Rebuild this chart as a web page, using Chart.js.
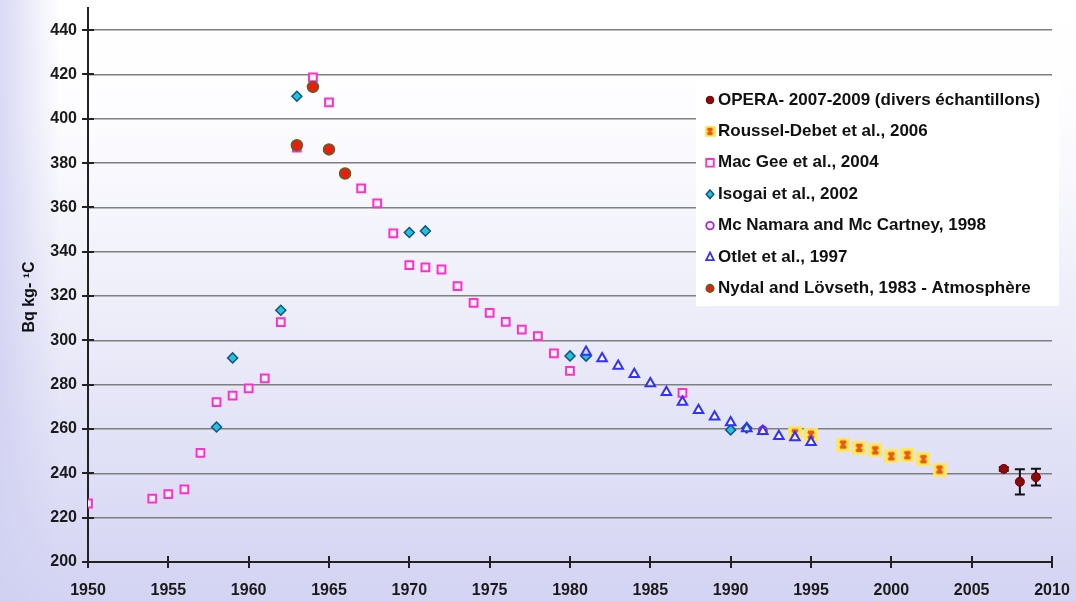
<!DOCTYPE html>
<html>
<head>
<meta charset="utf-8">
<script src="https://cdn.jsdelivr.net/npm/chart.js@4.4.0/dist/chart.umd.min.js"></script>
<style>
  html, body { margin: 0; padding: 0; background: #ffffff; }
  #wrap { width: 1076px; height: 601px; position: relative; }
</style>
</head>
<body>
<div id="wrap"><canvas id="c" width="1076" height="601"></canvas></div>
<script>
// ---- Axis ticks ----
const xTicks = [1950, 1955, 1960, 1965, 1970, 1975, 1980, 1985, 1990, 1995, 2000, 2005, 2010];
const yTicks = [200, 220, 240, 260, 280, 300, 320, 340, 360, 380, 400, 420, 440];

// ---- Series (year, Bq/kg C) ----
const operaYears = [2007, 2008, 2009];
const operaValues = [242.0, 236.2, 238.3];
const operaErrors = [0.8, 5.7, 3.8];

const rousselYears = [1994, 1995, 1997, 1998, 1999, 2000, 2001, 2002, 2003];
const rousselValues = [258.1, 257.4, 253.0, 251.5, 250.4, 247.7, 248.2, 246.4, 241.7];

const macGeeYears = [1950, 1954, 1955, 1956, 1957, 1958, 1959, 1960, 1961, 1962, 1963, 1964, 1965,
                     1967, 1968, 1969, 1970, 1971, 1972, 1973, 1974, 1975, 1976, 1977, 1978, 1979, 1980, 1987];
const macGeeValues = [226.4, 228.6, 230.6, 232.8, 249.2, 272.1, 275.1, 278.4, 282.9, 308.2, 387.0, 418.7, 407.4,
                      368.6, 361.8, 348.3, 334.0, 333.0, 332.0, 324.5, 316.9, 312.4, 308.4, 304.9, 301.9, 294.1, 286.2, 276.3];

const isogaiYears = [1958, 1959, 1962, 1963, 1970, 1971, 1980, 1981, 1990, 1991];
const isogaiValues = [260.9, 292.1, 313.6, 410.2, 348.7, 349.4, 293.0, 292.9, 259.6, 260.5];

const mcNamaraYears = [1992];
const mcNamaraValues = [259.4];

const otletYears = [1981, 1982, 1983, 1984, 1985, 1986, 1987, 1988, 1989, 1990, 1991, 1992, 1993, 1994, 1995];
const otletValues = [294.8, 291.8, 288.5, 284.7, 280.5, 276.6, 272.2, 268.5, 265.5, 263.0, 260.3, 259.0, 256.7, 256.2, 254.0];

const nydalYears = [1963, 1964, 1965, 1966];
const nydalValues = [388.1, 414.4, 386.2, 375.3];

const seriesNames = [
  'OPERA- 2007-2009 (divers échantillons)',
  'Roussel-Debet et al., 2006',
  'Mac Gee et al., 2004',
  'Isogai et al., 2002',
  'Mc Namara and Mc Cartney, 1998',
  'Otlet et al., 1997',
  'Nydal and Lövseth, 1983 - Atmosphère'
];

const FONT = "'Liberation Sans', Arial, sans-serif";

function pts(xs, ys) { return xs.map((x, i) => ({ x: x, y: ys[i] })); }

// Yellow square with an orange cross, used for the Roussel-Debet series
function crossMarker(size) {
  const c = document.createElement('canvas');
  c.width = size; c.height = size;
  const g = c.getContext('2d');
  g.fillStyle = 'rgba(255, 232, 90, 0.95)';
  g.fillRect(0, 0, size, size);
  const p = Math.round(size * 0.25);
  g.strokeStyle = '#ec5a0c';
  g.lineWidth = size > 10 ? 2.4 : 1.8;
  g.beginPath();
  g.moveTo(p, p); g.lineTo(size - p, size - p);
  g.moveTo(size - p, p); g.lineTo(p, size - p);
  g.moveTo(p, p); g.lineTo(size - p, p);
  g.moveTo(p, size - p); g.lineTo(size - p, size - p);
  g.stroke();
  return c;
}
const crossBig = crossMarker(14);
const crossSmall = crossMarker(11);

const datasets = [
  { label: seriesNames[0], data: pts(operaYears, operaValues), errors: operaErrors,
    pointStyle: 'circle', pointRadius: 4.5, backgroundColor: '#8e0a0a', borderColor: '#6a0000', borderWidth: 1, order: 6 },
  { label: seriesNames[1], data: pts(rousselYears, rousselValues),
    pointStyle: crossBig, pointRadius: 7, backgroundColor: '#ffe85a', borderColor: '#ec5a0c', borderWidth: 0, order: 5 },
  { label: seriesNames[2], data: pts(macGeeYears, macGeeValues),
    pointStyle: 'rect', pointRadius: 5.5, backgroundColor: '#fff2fb', borderColor: '#ff2fcc', borderWidth: 2, order: 4 },
  { label: seriesNames[3], data: pts(isogaiYears, isogaiValues),
    pointStyle: 'rectRot', pointRadius: 5, backgroundColor: '#1fc6da', borderColor: '#174f80', borderWidth: 1.5, order: 3 },
  { label: seriesNames[4], data: pts(mcNamaraYears, mcNamaraValues),
    pointStyle: 'circle', pointRadius: 4, backgroundColor: '#f4e8fb', borderColor: '#a030c8', borderWidth: 2, order: 2 },
  { label: seriesNames[5], data: pts(otletYears, otletValues),
    pointStyle: 'triangle', pointRadius: 5.5, backgroundColor: 'rgba(255,255,255,0.75)', borderColor: '#3030ff', borderWidth: 2, order: 1 },
  { label: seriesNames[6], data: pts(nydalYears, nydalValues),
    pointStyle: 'circle', pointRadius: 5.5, backgroundColor: '#ee1c10', borderColor: '#4d6b22', borderWidth: 1.5, order: 0 }
];

// Page background: white at the top fading to lavender at the bottom and left edge
const backgroundPlugin = {
  id: 'backdrop',
  beforeDraw(chart) {
    const ctx = chart.ctx, w = chart.width, h = chart.height;
    ctx.save();
    const g = ctx.createLinearGradient(0, 0, 0, h);
    g.addColorStop(0, '#ffffff');
    g.addColorStop(0.18, '#fdfdff');
    g.addColorStop(0.55, '#ececf9');
    g.addColorStop(1, '#d3d3f3');
    ctx.fillStyle = g;
    ctx.fillRect(0, 0, w, h);
    const gl = ctx.createLinearGradient(0, 0, 60, 0);
    gl.addColorStop(0, 'rgba(208,208,242,0.8)');
    gl.addColorStop(1, 'rgba(208,208,242,0)');
    ctx.fillStyle = gl;
    ctx.fillRect(0, 0, 60, h);
    ctx.restore();
  }
};

// Tick marks crossing both axes, plus the vertical error bars
const axisExtras = {
  id: 'axisExtras',
  beforeDatasetsDraw(chart) {
    const ctx = chart.ctx, xs = chart.scales.x, ys = chart.scales.y, a = chart.chartArea;
    ctx.save();
    ctx.strokeStyle = '#222';
    ctx.lineWidth = 2;
    ctx.beginPath();
    xTicks.forEach(v => {
      const px = Math.round(xs.getPixelForValue(v));
      ctx.moveTo(px, a.bottom - 6); ctx.lineTo(px, a.bottom + 6);
    });
    yTicks.forEach(v => {
      const py = Math.round(ys.getPixelForValue(v));
      ctx.moveTo(a.left - 6, py); ctx.lineTo(a.left + 6, py);
    });
    ctx.stroke();

    // error bars
    chart.data.datasets.forEach(ds => {
      if (!ds.errors) return;
      ctx.strokeStyle = '#111';
      ctx.lineWidth = 2;
      ds.data.forEach((p, i) => {
        const e = ds.errors[i];
        const px = xs.getPixelForValue(p.x);
        const top = ys.getPixelForValue(p.y + e);
        const bot = ys.getPixelForValue(p.y - e);
        ctx.beginPath();
        ctx.moveTo(px, top); ctx.lineTo(px, bot);
        ctx.moveTo(px - 5, top); ctx.lineTo(px + 5, top);
        ctx.moveTo(px - 5, bot); ctx.lineTo(px + 5, bot);
        ctx.stroke();
      });
    });
    ctx.restore();
  }
};

function drawLegendMarker(ctx, ds, x, y) {
  ctx.save();
  ctx.fillStyle = ds.backgroundColor;
  ctx.strokeStyle = ds.borderColor;
  ctx.lineWidth = Math.min(ds.borderWidth, 1.8);
  const st = ds.pointStyle;
  const r = 3.8;
  ctx.beginPath();
  if (st === 'circle') {
    ctx.arc(x, y, r, 0, Math.PI * 2);
  } else if (st === 'rect') {
    ctx.rect(x - r, y - r, 2 * r, 2 * r);
  } else if (st === 'rectRot') {
    ctx.moveTo(x, y - r - 0.5); ctx.lineTo(x + r, y); ctx.lineTo(x, y + r + 0.5); ctx.lineTo(x - r, y); ctx.closePath();
  } else if (st === 'triangle') {
    ctx.moveTo(x, y - r - 0.8); ctx.lineTo(x + r, y + r * 0.8); ctx.lineTo(x - r, y + r * 0.8); ctx.closePath();
  } else {
    ctx.drawImage(crossSmall, x - 5.5, y - 5.5);
    ctx.restore();
    return;
  }
  ctx.fill();
  if (ds.borderWidth > 0) ctx.stroke();
  ctx.restore();
}

// Legend box inside the plot, plus the rotated axis title
const legendBox = {
  id: 'legendBox',
  afterDraw(chart) {
    const ctx = chart.ctx;
    ctx.save();
    ctx.fillStyle = '#ffffff';
    ctx.fillRect(696, 81, 363, 225);
    ctx.font = 'bold 17px ' + FONT;
    ctx.textBaseline = 'middle';
    ctx.textAlign = 'left';
    chart.data.datasets.forEach((ds, i) => {
      const y = 100 + i * 31.4;
      drawLegendMarker(ctx, ds, 710, y);
      ctx.fillStyle = '#111';
      ctx.fillText(ds.label, 718, y);
    });
    // y axis title
    ctx.translate(30, 297);
    ctx.rotate(-Math.PI / 2);
    ctx.textAlign = 'center';
    ctx.font = 'bold 16px ' + FONT;
    ctx.fillStyle = '#111';
    ctx.fillText('Bq kg- \u00B9C', 0, 0);
    ctx.restore();
  }
};

const tickFont = { family: FONT, size: 16, weight: 'bold' };

new Chart(document.getElementById('c'), {
  type: 'scatter',
  data: { datasets: datasets },
  options: {
    responsive: false,
    animation: false,
    layout: { padding: { top: 8, right: 24, left: 0, bottom: 0 } },
    plugins: { legend: { display: false }, tooltip: { enabled: false } },
    scales: {
      x: {
        type: 'linear', min: 1950, max: 2010,
        afterBuildTicks: s => { s.ticks = xTicks.map(v => ({ value: v })); },
        afterFit: s => { s.height = 39; s.paddingLeft = 0; s.paddingRight = 0; },
        grid: { display: false },
        border: { display: true, color: '#222', width: 2 },
        ticks: { font: tickFont, color: '#1a1a1a', padding: 11, maxRotation: 0, autoSkip: false,
                 callback: v => String(v) }
      },
      y: {
        type: 'linear', min: 200, max: 450,
        afterBuildTicks: s => { s.ticks = yTicks.map(v => ({ value: v })); },
        afterFit: s => { s.width = 88; s.paddingTop = 0; s.paddingBottom = 0; },
        grid: { color: '#7f7f7f', lineWidth: 1.5, drawTicks: false },
        border: { display: true, color: '#222', width: 2 },
        ticks: { font: tickFont, color: '#1a1a1a', padding: 11, autoSkip: false,
                 callback: v => String(v) }
      }
    }
  },
  plugins: [backgroundPlugin, axisExtras, legendBox]
});
</script>
</body>
</html>
